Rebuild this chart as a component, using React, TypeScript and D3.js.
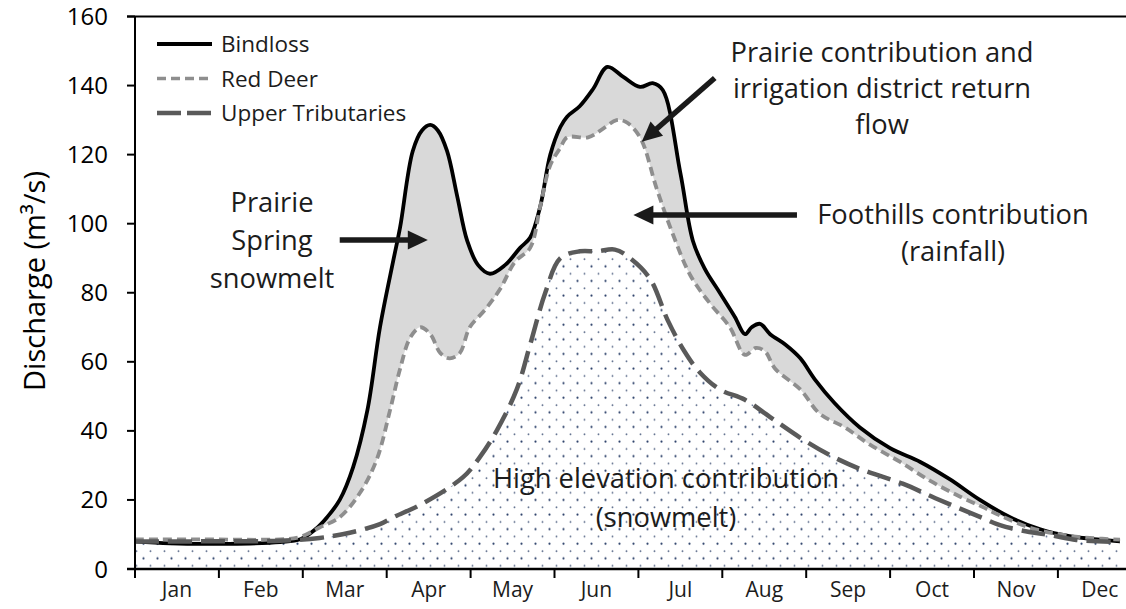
import React from 'react';
import * as d3 from 'd3';

const months = ['Jan', 'Feb', 'Mar', 'Apr', 'May', 'Jun', 'Jul', 'Aug', 'Sep', 'Oct', 'Nov', 'Dec'];
const yTicks = [0, 20, 40, 60, 80, 100, 120, 140, 160];

// [month position (0 = start of Jan), discharge m3/s]
const bindloss: [number, number][] = [
  [0.0, 8.0], [0.42, 7.4], [1.13, 7.3], [1.73, 7.8], [1.97, 8.6], [2.15, 11.5], [2.29, 15],
  [2.44, 20], [2.6, 29.5], [2.77, 46], [2.92, 70], [3.08, 89.5], [3.16, 99], [3.31, 121],
  [3.42, 127], [3.52, 128.6], [3.61, 127], [3.72, 121], [3.84, 108], [3.96, 95], [4.09, 88],
  [4.23, 85.5], [4.41, 88], [4.59, 93], [4.71, 96], [4.83, 105], [4.95, 120], [5.07, 128],
  [5.15, 131], [5.3, 134], [5.46, 139], [5.63, 145.4], [5.82, 142.5], [6.02, 139.6],
  [6.17, 140.7], [6.29, 138.7], [6.5, 114.7], [6.65, 95], [6.79, 87], [6.97, 80], [7.15, 73],
  [7.27, 68], [7.35, 70], [7.45, 71], [7.57, 68], [7.75, 65], [7.93, 61], [8.1, 55], [8.34, 48],
  [8.64, 41], [9.0, 35], [9.36, 31], [9.71, 26], [10.07, 20], [10.43, 15], [10.79, 11.5],
  [11.14, 9.5], [11.5, 8.5], [11.74, 8.0],
];

const redDeer: [number, number][] = [
  [0.0, 8.6], [0.77, 8.6], [1.73, 8.6], [1.97, 9.3], [2.2, 12], [2.44, 15], [2.68, 22],
  [2.88, 31.6], [3.04, 46], [3.16, 58], [3.28, 67], [3.4, 70], [3.52, 68], [3.64, 62.5],
  [3.75, 61], [3.87, 62.5], [3.99, 70], [4.17, 75], [4.35, 81], [4.53, 89], [4.71, 93],
  [4.83, 105], [4.95, 117], [5.07, 122], [5.15, 125], [5.4, 125], [5.55, 127], [5.74, 130],
  [5.85, 129.5], [6.02, 125], [6.22, 110], [6.41, 97], [6.62, 85], [6.85, 77], [7.09, 70],
  [7.27, 62], [7.4, 64], [7.51, 63], [7.63, 58], [7.93, 52], [8.16, 45], [8.46, 41], [8.76, 36],
  [9.12, 31], [9.48, 25.5], [9.83, 21], [10.1, 18], [10.31, 15.5], [10.66, 12], [11.03, 10],
  [11.38, 9], [11.74, 8.5],
];

const upperTributaries: [number, number][] = [
  [0.0, 8], [0.77, 8], [1.73, 8.2], [2.2, 9], [2.56, 10.5], [2.92, 13], [3.08, 15], [3.43, 19],
  [3.91, 26.6], [4.11, 32.4], [4.31, 40], [4.55, 52], [4.71, 65], [4.89, 80], [5.07, 90],
  [5.3, 92], [5.51, 92], [5.72, 92.5], [5.9, 90], [6.14, 84], [6.35, 72], [6.55, 63], [6.73, 57],
  [6.97, 52], [7.27, 49], [7.57, 44], [7.93, 38], [8.28, 33], [8.64, 29], [9.15, 24.7],
  [9.54, 20.5], [10.1, 14.8], [10.31, 12.7], [10.66, 10.7], [10.91, 9.8], [11.22, 8.4],
  [11.74, 7.8],
];

const legendItems = [
  { name: 'Bindloss', color: '#000', width: 4, dash: '' },
  { name: 'Red Deer', color: '#8e8e8e', width: 3.5, dash: '9 5' },
  { name: 'Upper Tributaries', color: '#5a5a5a', width: 4.5, dash: '24 6' },
];

const FONT = "'Open Sans', sans-serif";
const TEXT = '#1c1c1c';

function Arrow({ x1, y1, x2, y2 }: { x1: number; y1: number; x2: number; y2: number }) {
  const dx = x2 - x1, dy = y2 - y1;
  const len = Math.hypot(dx, dy);
  const ux = dx / len, uy = dy / len;
  const hl = 20, hw = 9.5;
  const bx = x2 - ux * hl, by = y2 - uy * hl;
  const px = -uy, py = ux;
  return (
    <g>
      <line x1={x1} y1={y1} x2={bx + ux * 2} y2={by + uy * 2} stroke="#1a1a1a" strokeWidth={5.5} />
      <path d={`M${x2},${y2}L${bx + px * hw},${by + py * hw}L${bx - px * hw},${by - py * hw}Z`} fill="#1a1a1a" />
    </g>
  );
}

export default function App() {
  const x = d3.scaleLinear().domain([0, 12]).range([135, 135 + 83.9 * 12]);
  const y = d3.scaleLinear().domain([0, 160]).range([569, 16.5]);
  const curve = d3.curveCatmullRom.alpha(0.5);
  const line = d3.line<[number, number]>().x(d => x(d[0])).y(d => y(d[1])).curve(curve);
  const area = d3.area<[number, number]>().x(d => x(d[0])).y0(y(0)).y1(d => y(d[1])).curve(curve);

  const W = 1126, H = 609;
  const x0 = x(0);

  return (
    <svg width={W} height={H} style={{ position: 'absolute', left: 0, top: 0, display: 'block' }} fontFamily={FONT}>
      <defs>
        <pattern id="dots" patternUnits="userSpaceOnUse" width={14} height={14.6}>
          <circle cx={3.5} cy={3.6} r={1.1} fill="#1f3560" opacity={0.95} />
          <circle cx={10.5} cy={10.9} r={0.95} fill="#1f3560" opacity={0.7} />
        </pattern>
      </defs>
      <rect width={W} height={H} fill="#fff" />

      {/* fills */}
      <path d={area(bindloss) || ''} fill="#d9d9d9" />
      <path d={area(redDeer) || ''} fill="#fff" />
      <path d={area(upperTributaries) || ''} fill="url(#dots)" />

      {/* lines */}
      <path d={line(bindloss) || ''} fill="none" stroke="#000" strokeWidth={3.8} strokeLinejoin="round" />
      <path d={line(redDeer) || ''} fill="none" stroke="#8e8e8e" strokeWidth={3.8} strokeDasharray="9 5" />
      <path d={line(upperTributaries) || ''} fill="none" stroke="#5a5a5a" strokeWidth={4.5} strokeDasharray="24 9" />

      {/* axes */}
      <line x1={127} x2={W} y1={y(160)} y2={y(160)} stroke="#000" strokeWidth={2} />
      <line x1={127} x2={W} y1={y(0)} y2={y(0)} stroke="#000" strokeWidth={2.5} />
      <line x1={x0} x2={x0} y1={y(160)} y2={y(0) + 9} stroke="#000" strokeWidth={2} />
      {yTicks.map(t => (
        <g key={t}>
          <line x1={127} x2={x0} y1={y(t)} y2={y(t)} stroke="#000" strokeWidth={2} />
          <text x={108} y={y(t) + 8.5} textAnchor="end" fontSize={24} fill="#000">{t}</text>
        </g>
      ))}
      {d3.range(1, 13).map(i => (
        <line key={i} x1={x(i)} x2={x(i)} y1={y(0)} y2={y(0) + 9} stroke="#000" strokeWidth={2} />
      ))}
      {months.map((m, i) => (
        <text key={m} x={x(i + 0.5)} y={597} textAnchor="middle" fontSize={21} fill={TEXT}>{m}</text>
      ))}
      <text transform={`translate(45, 281) rotate(-90)`} textAnchor="middle" fontSize={29} fill="#000">Discharge (m³/s)</text>

      {/* legend */}
      {legendItems.map((it, i) => {
        const ly = 44 + i * 34.5;
        return (
          <g key={it.name}>
            <line x1={157} x2={212} y1={ly} y2={ly} stroke={it.color} strokeWidth={it.width} strokeDasharray={it.dash || undefined} />
            <text x={221} y={ly + 8} fontSize={22.5} fill={TEXT}>{it.name}</text>
          </g>
        );
      })}

      {/* annotations */}
      <g fontSize={27.3} fill={TEXT} textAnchor="middle">
        <text x={272} y={212}>Prairie</text>
        <text x={272} y={250}>Spring</text>
        <text x={272} y={288}>snowmelt</text>
        <text x={882} y={62}>Prairie contribution and</text>
        <text x={882} y={98}>irrigation district return</text>
        <text x={882} y={134}>flow</text>
        <text x={953} y={224}>Foothills contribution</text>
        <text x={953} y={261}>(rainfall)</text>
        <text x={666} y={488}>High elevation contribution</text>
        <text x={666} y={527}>(snowmelt)</text>
      </g>
      <Arrow x1={x(2.44)} y1={y(95.3)} x2={x(3.49)} y2={y(95.3)} />
      <Arrow x1={x(7.89)} y1={y(102.5)} x2={x(5.94)} y2={y(102.5)} />
      <Arrow x1={x(6.91)} y1={y(142.2)} x2={x(6.04)} y2={y(123.7)} />
    </svg>
  );
}
